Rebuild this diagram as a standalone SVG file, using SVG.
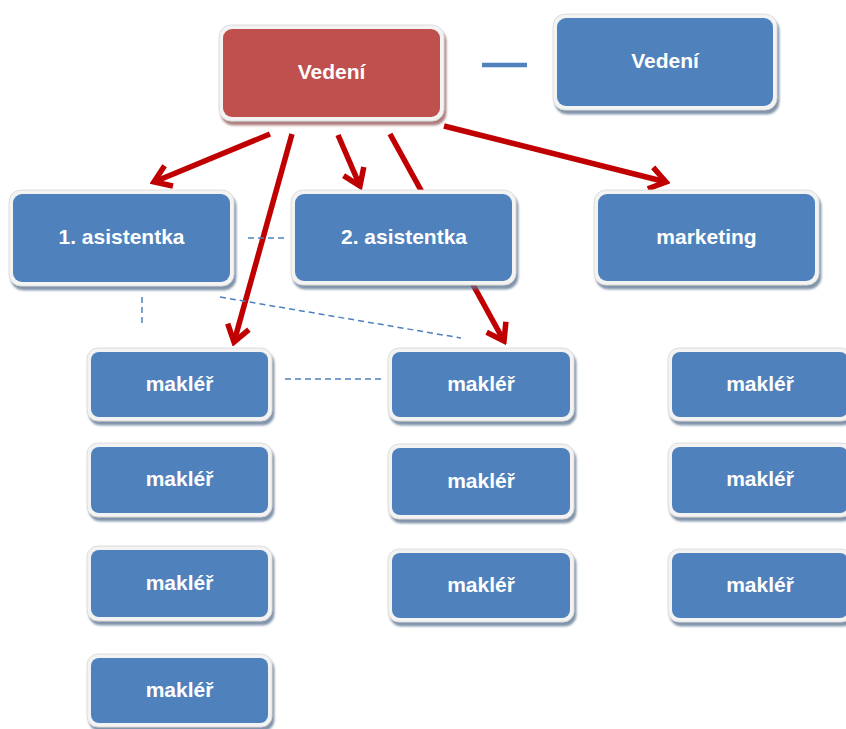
<svg xmlns="http://www.w3.org/2000/svg" width="846" height="729" viewBox="0 0 846 729">
<defs>
<style>
.frame{fill:#f3f3f3;stroke:#d6d6d6;stroke-width:0.8}
.blue{fill:#4F81BD}
.red{fill:#C0504D}
.lbl{font-family:"Liberation Sans",Arial,sans-serif;font-weight:bold;font-size:21px;fill:#ffffff;text-anchor:middle}
.arr{stroke:#C00000;stroke-width:5.5;fill:none}
.dash{stroke:#4F81BD;stroke-width:1.5;stroke-dasharray:6 4;fill:none}
</style>
<filter id="sh" x="-10%" y="-10%" width="125%" height="135%">
<feDropShadow dx="2" dy="4" stdDeviation="1.2" flood-color="#56708f" flood-opacity="0.75"/>
</filter>
<filter id="shr" x="-10%" y="-10%" width="125%" height="135%">
<feDropShadow dx="2" dy="4" stdDeviation="1.2" flood-color="#8c4a48" flood-opacity="0.7"/>
</filter>
<marker id="ah" markerUnits="userSpaceOnUse" viewBox="-24 -16 28 32" refX="0" refY="0" markerWidth="28" markerHeight="32" orient="auto">
<path d="M-16,-11 L0,0 L-16,11" fill="none" stroke="#C00000" stroke-width="5.5"/>
</marker>
</defs>
<rect width="846" height="729" fill="#ffffff"/>

<g id="connectors">
<line class="arr" x1="270" y1="134" x2="154" y2="182" marker-end="url(#ah)"/>
<line class="arr" x1="292" y1="134" x2="234" y2="342" marker-end="url(#ah)"/>
<line class="arr" x1="338" y1="135" x2="360" y2="186" marker-end="url(#ah)"/>
<line class="arr" x1="390" y1="134" x2="504" y2="341" marker-end="url(#ah)"/>
<line class="arr" x1="444" y1="126" x2="666" y2="182" marker-end="url(#ah)"/>
<line x1="482" y1="65" x2="527" y2="65" stroke="#4F81BD" stroke-width="4.5"/>
<line class="dash" x1="248" y1="238" x2="288" y2="238"/>
<line class="dash" x1="142" y1="297" x2="142" y2="327"/>
<line class="dash" x1="220" y1="297" x2="461" y2="338"/>
<line class="dash" x1="285" y1="379" x2="384" y2="379"/>
</g>

<g id="vedeni-main">
<rect class="frame" x="219" y="25" width="225" height="96" rx="12" filter="url(#shr)"/>
<rect class="red" x="223" y="29" width="217" height="88" rx="9"/>
<text class="lbl" x="331.5" y="79">Vedení</text>
</g>
<g id="vedeni-legend">
<rect class="frame" x="553" y="14" width="224" height="96" rx="12" filter="url(#sh)"/>
<rect class="blue" x="557" y="18" width="216" height="88" rx="9"/>
<text class="lbl" x="665" y="68">Vedení</text>
</g>
<g id="asistentka1">
<rect class="frame" x="9" y="190" width="225" height="96" rx="12" filter="url(#sh)"/>
<rect class="blue" x="13" y="194" width="217" height="88" rx="9"/>
<text class="lbl" x="121.5" y="244">1. asistentka</text>
</g>
<g id="asistentka2">
<rect class="frame" x="291" y="190" width="225" height="95" rx="12" filter="url(#sh)"/>
<rect class="blue" x="295" y="194" width="217" height="87" rx="9"/>
<text class="lbl" x="404" y="244">2. asistentka</text>
</g>
<g id="marketing">
<rect class="frame" x="594" y="190" width="225" height="95" rx="12" filter="url(#sh)"/>
<rect class="blue" x="598" y="194" width="217" height="87" rx="9"/>
<text class="lbl" x="706.5" y="244">marketing</text>
</g>

<g id="makler-1-1">
<rect class="frame" x="87" y="348" width="185" height="73" rx="11" filter="url(#sh)"/>
<rect class="blue" x="91" y="352" width="177" height="65" rx="8"/>
<text class="lbl" x="179.5" y="391">makléř</text>
</g>
<g id="makler-1-2">
<rect class="frame" x="87" y="443" width="185" height="74" rx="11" filter="url(#sh)"/>
<rect class="blue" x="91" y="447" width="177" height="66" rx="8"/>
<text class="lbl" x="179.5" y="486">makléř</text>
</g>
<g id="makler-1-3">
<rect class="frame" x="87" y="546" width="185" height="75" rx="11" filter="url(#sh)"/>
<rect class="blue" x="91" y="550" width="177" height="67" rx="8"/>
<text class="lbl" x="179.5" y="590">makléř</text>
</g>
<g id="makler-1-4">
<rect class="frame" x="87" y="654" width="185" height="73" rx="11" filter="url(#sh)"/>
<rect class="blue" x="91" y="658" width="177" height="65" rx="8"/>
<text class="lbl" x="179.5" y="697">makléř</text>
</g>

<g id="makler-2-1">
<rect class="frame" x="388" y="348" width="186" height="73" rx="11" filter="url(#sh)"/>
<rect class="blue" x="392" y="352" width="178" height="65" rx="8"/>
<text class="lbl" x="481" y="391">makléř</text>
</g>
<g id="makler-2-2">
<rect class="frame" x="388" y="444" width="186" height="75" rx="11" filter="url(#sh)"/>
<rect class="blue" x="392" y="448" width="178" height="67" rx="8"/>
<text class="lbl" x="481" y="488">makléř</text>
</g>
<g id="makler-2-3">
<rect class="frame" x="388" y="549" width="186" height="73" rx="11" filter="url(#sh)"/>
<rect class="blue" x="392" y="553" width="178" height="65" rx="8"/>
<text class="lbl" x="481" y="592">makléř</text>
</g>

<g id="makler-3-1">
<rect class="frame" x="668" y="348" width="184" height="73" rx="11" filter="url(#sh)"/>
<rect class="blue" x="672" y="352" width="176" height="65" rx="8"/>
<text class="lbl" x="760" y="391">makléř</text>
</g>
<g id="makler-3-2">
<rect class="frame" x="668" y="443" width="184" height="74" rx="11" filter="url(#sh)"/>
<rect class="blue" x="672" y="447" width="176" height="66" rx="8"/>
<text class="lbl" x="760" y="486">makléř</text>
</g>
<g id="makler-3-3">
<rect class="frame" x="668" y="549" width="184" height="73" rx="11" filter="url(#sh)"/>
<rect class="blue" x="672" y="553" width="176" height="65" rx="8"/>
<text class="lbl" x="760" y="592">makléř</text>
</g>
</svg>
